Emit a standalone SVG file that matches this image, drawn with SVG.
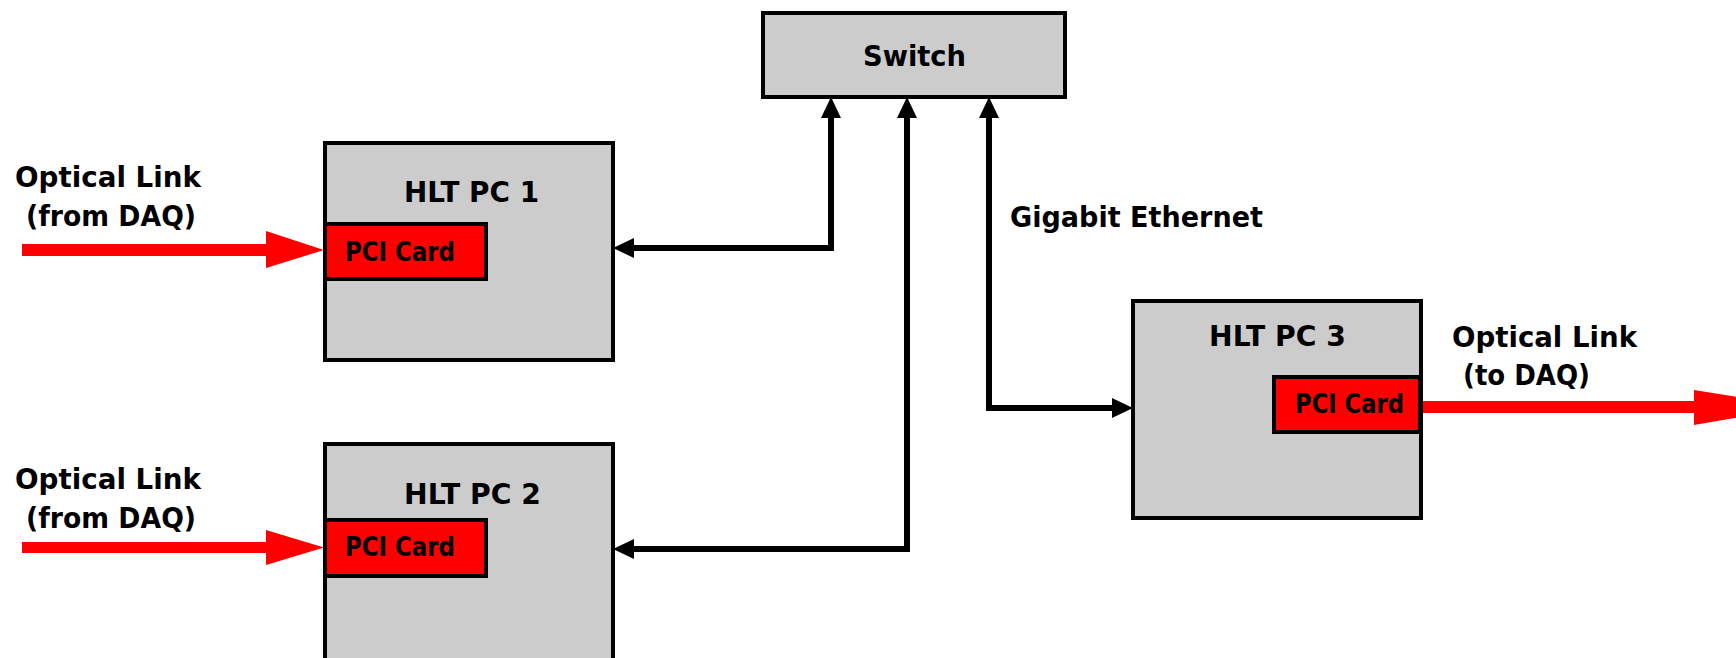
<svg xmlns="http://www.w3.org/2000/svg" width="1736" height="658" viewBox="0 0 1736 658">
  <style>
    .box { fill: #cccccc; stroke: #000; stroke-width: 4; }
    .card { fill: #ff0000; stroke: #000; stroke-width: 4; }
    .optic { fill: #ff0000; }
    .link { fill: none; stroke: #000; stroke-width: 6; stroke-linejoin: miter; }
    text { font-family: "DejaVu Sans", "Liberation Sans", sans-serif; font-weight: bold; fill: #000; }
    .lbl { font-size: 29px; }
    .small { font-size: 26px; }
  </style>
  <defs>
    <marker id="head" markerUnits="userSpaceOnUse" markerWidth="21" markerHeight="20" refX="10" refY="10" orient="auto-start-reverse">
      <path d="M0,0 L21,10 L0,20 z" fill="#000"/>
    </marker>
  </defs>

  <!-- optical fibre links -->
  <g id="optical-links">
    <polygon class="optic" points="22,244 266,244 266,231 324,250 266,268 266,256 22,256"/>
    <polygon class="optic" points="22,542 266,542 266,530 324,547.5 266,565 266,553 22,553"/>
    <polygon class="optic" points="1421,401 1694,401 1694,390 1800,407 1694,425 1694,413 1421,413"/>
  </g>

  <!-- ethernet connectors -->
  <g id="connectors">
    <path class="link" d="M624,248 H831 V108" marker-start="url(#head)" marker-end="url(#head)"/>
    <path class="link" d="M624,549 H907 V108" marker-start="url(#head)" marker-end="url(#head)"/>
    <path class="link" d="M989,108 V408 H1122" marker-start="url(#head)" marker-end="url(#head)"/>
  </g>

  <g id="switch">
    <rect class="box" x="763" y="13" width="302" height="84"/>
    <text class="lbl" x="863" y="66" textLength="103" lengthAdjust="spacingAndGlyphs">Switch</text>
  </g>

  <g id="hlt-pc-1">
    <rect class="box" x="325" y="143" width="288" height="217"/>
    <text class="lbl" x="404" y="202" textLength="135" lengthAdjust="spacingAndGlyphs">HLT PC 1</text>
    <rect class="card" x="325" y="224" width="161" height="55"/>
    <text class="small" x="345" y="261" textLength="110" lengthAdjust="spacingAndGlyphs">PCI Card</text>
  </g>

  <g id="hlt-pc-2">
    <rect class="box" x="325" y="444" width="288" height="240"/>
    <text class="lbl" x="404" y="504" textLength="137" lengthAdjust="spacingAndGlyphs">HLT PC 2</text>
    <rect class="card" x="325" y="520" width="161" height="56"/>
    <text class="small" x="345" y="556" textLength="110" lengthAdjust="spacingAndGlyphs">PCI Card</text>
  </g>

  <g id="hlt-pc-3">
    <rect class="box" x="1133" y="301" width="288" height="217"/>
    <text class="lbl" x="1209" y="346" textLength="137" lengthAdjust="spacingAndGlyphs">HLT PC 3</text>
    <rect class="card" x="1274" y="377" width="146" height="55"/>
    <text class="small" x="1295" y="413" textLength="109" lengthAdjust="spacingAndGlyphs">PCI Card</text>
  </g>

  <g id="labels">
    <text class="lbl" x="15" y="187" textLength="186" lengthAdjust="spacingAndGlyphs">Optical Link</text>
    <text class="lbl" x="26" y="226" textLength="170" lengthAdjust="spacingAndGlyphs">(from DAQ)</text>
    <text class="lbl" x="15" y="489" textLength="186" lengthAdjust="spacingAndGlyphs">Optical Link</text>
    <text class="lbl" x="26" y="528" textLength="170" lengthAdjust="spacingAndGlyphs">(from DAQ)</text>
    <text class="lbl" x="1010" y="227" textLength="253" lengthAdjust="spacingAndGlyphs">Gigabit Ethernet</text>
    <text class="lbl" x="1452" y="347" textLength="185" lengthAdjust="spacingAndGlyphs">Optical Link</text>
    <text class="lbl" x="1463" y="385" textLength="127" lengthAdjust="spacingAndGlyphs">(to DAQ)</text>
  </g>
</svg>
